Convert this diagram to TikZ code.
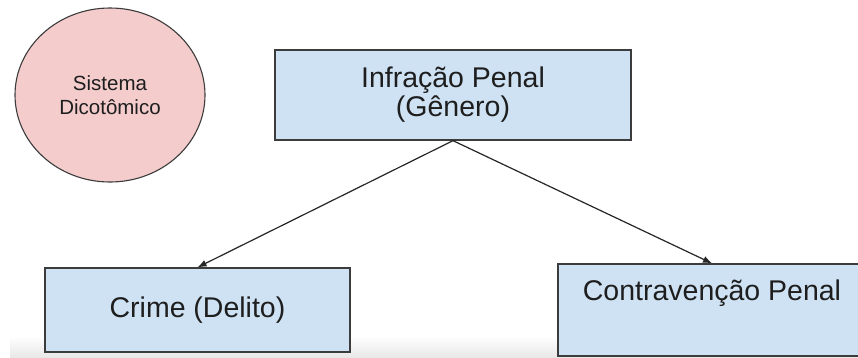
\documentclass[tikz,border=0pt]{standalone}
\usepackage{fontspec}
\setmainfont{Liberation Sans}
\usetikzlibrary{arrows.meta,shapes.geometric}
\definecolor{boxblue}{HTML}{CFE2F3}
\definecolor{circred}{HTML}{F4CCCC}
\definecolor{edge}{HTML}{3C3C3C}
\definecolor{txt}{HTML}{1E1E1E}
\tikzset{
  bluebox/.style={draw=edge, line width=1.3pt, fill=boxblue, rectangle, inner sep=0pt, text=txt, align=center, font=\fontsize{28.5}{29}\selectfont},
  redcirc/.style={draw=edge, line width=1.1pt, fill=circred, ellipse, inner sep=0pt, text=txt, align=center, font=\fontsize{20.5}{24}\selectfont},
  link/.style={draw=black!85, line width=1.2pt, -{Latex[length=9pt,width=7pt]}},
  plain/.style={text=txt, inner sep=0pt, font=\fontsize{28.5}{29}\selectfont}
}
\begin{document}
\begin{tikzpicture}[x=1pt,y=-1pt]
\useasboundingbox (0,0) rectangle (858,357);
\fill[white] (0,0) rectangle (858,357);
\shade[top color=white, bottom color=black!9] (10,336) rectangle (858,357);
\node[redcirc, minimum width=190pt, minimum height=174pt] (sis) at (110,95) {Sistema\\Dicotômico};
\node[bluebox, minimum width=356pt, minimum height=90pt] (infra) at (453,95) {Infração Penal\\(Gênero)};
\node[bluebox, minimum width=305pt, minimum height=84pt] (crime) at (197.5,310) {Crime (Delito)};
\node[bluebox, minimum width=308pt, minimum height=92pt] (contra) at (712,310) {};
\node[plain] (contratxt) at (712,293.5) {Contravenção Penal};
\draw[link] (infra.south) -- (crime.north);
\draw[link] (infra.south) -- (contra.north);
\end{tikzpicture}
\end{document}
